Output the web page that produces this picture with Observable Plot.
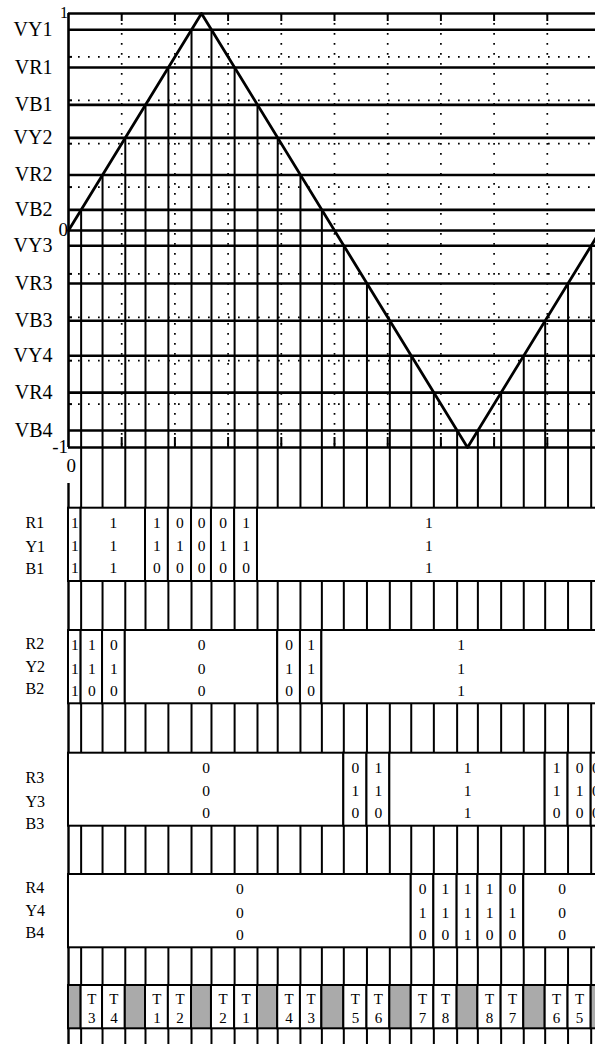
<!DOCTYPE html>
<html>
<head>
<meta charset="utf-8">
<script src="https://cdn.jsdelivr.net/npm/d3@7"></script>
<script src="https://cdn.jsdelivr.net/npm/@observablehq/plot@0.6"></script>
<style>
  html, body { margin: 0; padding: 0; background: #fff; overflow: hidden; }
  #chart svg { display: block; }
</style>
</head>
<body>
<div id="chart"></div>
<script>
// Modulating triangle wave over one period (x in grid units, y in p.u.)
const waveX = [0, 2.5, 7.5, 10];
const waveY = [0, 1, -1, 0];

// Carrier comparison levels, top to bottom
const levelNames  = ["VY1", "VR1", "VB1", "VY2", "VR2", "VB2", "VY3", "VR3", "VB3", "VY4", "VR4", "VB4"];
const levelValues = [0.925, 0.751, 0.579, 0.427, 0.256, 0.095, -0.07, -0.244, -0.416, -0.577, -0.747, -0.922];

// Dotted grid
const gridY = [-0.8, -0.6, -0.4, -0.2, 0.2, 0.4, 0.6, 0.8];
const gridX = [1, 2, 3, 4, 5, 6, 7, 8, 9];
const yTickValues = [1, 0, -1];
const yTickTexts  = ["1", "0", "-1"];

// Switching states per cell. A cell starts at the given interval index
// (intervals lie between successive crossings) and runs to the next cell.
const rowLabels = [["R1", "Y1", "B1"], ["R2", "Y2", "B2"], ["R3", "Y3", "B3"], ["R4", "Y4", "B4"]];
const row1Start = [0, 1, 4, 5, 6, 7, 8, 9];
const row1Bits  = ["111", "111", "110", "010", "000", "010", "110", "111"];
const row2Start = [0, 1, 2, 3, 10, 11, 12];
const row2Bits  = ["111", "110", "010", "000", "010", "110", "111"];
const row3Start = [0, 13, 14, 15, 22, 23, 24];
const row3Bits  = ["000", "010", "110", "111", "110", "010", "000"];
const row4Start = [0, 16, 17, 18, 19, 20, 21];
const row4Bits  = ["000", "010", "110", "111", "110", "010", "000"];

// Switch-combination labels per interval ("" = shaded interval)
const tLabels = ["", "3", "4", "", "1", "2", "", "2", "1", "", "4", "3", "",
                 "5", "6", "", "7", "8", "", "8", "7", "", "6", "5", ""];

// ---------------------------------------------------------------------------
const W = 595;
const xRange = [68, 600];
const font = "'Liberation Serif', 'Times New Roman', serif";

// Points where the triangle wave crosses each carrier level
function crossingsOf(level) {
  const out = [];
  for (let i = 0; i < waveX.length - 1; i++) {
    const a = waveY[i], b = waveY[i + 1];
    if ((level - a) * (level - b) < 0) {
      out.push(waveX[i] + (level - a) / (b - a) * (waveX[i + 1] - waveX[i]));
    }
  }
  return out;
}
const crossings = levelValues.flatMap(v => crossingsOf(v).map(x => ({x, y: v})));
const edges = [waveX[0], ...crossings.map(d => d.x).sort((a, b) => a - b), waveX[waveX.length - 1]];
const yBottom = d3.min(waveY);

const wave = waveX.map((x, i) => ({x, y: waveY[i]}));

// ---------------- Upper panel: wave and carrier levels ----------------
const H1 = 447, mTop = 13;
const frameH = H1 - mTop;

const upper = Plot.plot({
  width: W, height: H1,
  marginTop: mTop, marginBottom: 0, marginLeft: xRange[0], marginRight: 0,
  x: {domain: [0, 10], range: xRange, axis: null},
  y: {domain: [-1, 1], axis: null},
  style: `overflow: visible; font-family: ${font}; color: #000;`,
  marks: [
    Plot.ruleY(gridY, {stroke: "#000", strokeWidth: 1.7, strokeDasharray: "1.7,8.3"}),
    Plot.ruleX(gridX, {stroke: "#000", strokeWidth: 1.7, strokeDasharray: "1.7,8.3"}),
    // inward ticks on the frame
    Plot.ruleX(gridX, {stroke: "#000", strokeWidth: 2, insetBottom: frameH - 8}),
    Plot.ruleX(gridX, {stroke: "#000", strokeWidth: 2, insetTop: frameH - 10}),
    Plot.ruleY(gridY, {stroke: "#000", strokeWidth: 2, insetRight: W - xRange[0] - 4}),
    // zero axis and carrier levels
    Plot.ruleY([0], {stroke: "#000", strokeWidth: 2.4}),
    Plot.ruleY(levelValues, {stroke: "#000", strokeWidth: 2.6}),
    // drop lines from each crossing down to the bottom of the panel
    Plot.ruleX(crossings, {x: "x", y1: "y", y2: () => yBottom, stroke: "#000", strokeWidth: 2}),
    // frame: top, bottom, left
    Plot.ruleY([1, -1], {stroke: "#000", strokeWidth: 2.6}),
    Plot.ruleX([0], {stroke: "#000", strokeWidth: 2.6}),
    // modulating wave
    Plot.line(wave, {x: "x", y: "y", stroke: "#000", strokeWidth: 2.8}),
    // level names
    Plot.text(levelNames, {y: levelValues, text: d => d, frameAnchor: "left", dx: -16,
      textAnchor: "end", fontSize: 20, fill: "#000"}),
    // value labels of the vertical axis
    Plot.text(yTickTexts, {y: yTickValues, text: d => d, frameAnchor: "left",
      dx: [-4, -2, -6], dy: [0, 0, 3], textAnchor: "end", fontSize: [16, 19, 19], fill: "#000"}),
    // origin of the horizontal axis
    Plot.text(["0"], {x: [0], y: [-1], text: d => d, dx: -2, dy: 18, textAnchor: "start",
      fontSize: 19, fill: "#000"})
  ]
});

// ---------------- Lower panel: switching state tables ----------------
const H2 = 1044 - H1;
const rowTop    = [60.7, 183, 305.7, 427];
const rowBottom = [134, 256.3, 378.7, 500.3];
const valueOffset = [15, 38.3, 60.3];
const labelShift  = [0, -1.5, 10, -1.5];
const tTop = 538, tBottom = 581.3;
const leftBorderStart = 36;

const rowStarts = [row1Start, row2Start, row3Start, row4Start];
const rowBits   = [row1Bits, row2Bits, row3Bits, row4Bits];

const cells = rowStarts.flatMap((starts, r) => starts.map((s, k) => ({
  row: r,
  x1: edges[s],
  x2: edges[k + 1 < starts.length ? starts[k + 1] : edges.length - 1],
  bits: rowBits[r][k]
})));
const cellTexts = cells.flatMap(c => [0, 1, 2].map(j => ({
  x: (c.x1 + c.x2) / 2,
  y: rowTop[c.row] + valueOffset[j],
  text: c.bits[j]
})));
const labelTexts = rowLabels.flatMap((names, r) => names.map((n, j) => ({
  y: rowTop[r] + valueOffset[j] + labelShift[r],
  text: n
})));
const tCells = tLabels.map((t, i) => ({x1: edges[i], x2: edges[i + 1], text: t ? `T\n${t}` : ""}));

const lower = Plot.plot({
  width: W, height: H2,
  marginTop: 0, marginBottom: 0, marginLeft: 0, marginRight: 0,
  x: {domain: [0, 10], range: xRange, axis: null},
  y: {domain: [0, H2], range: [0, H2], axis: null},
  style: `font-family: ${font}; color: #000;`,
  marks: [
    Plot.ruleX(crossings, {x: "x", y1: () => 0, y2: () => H2, stroke: "#000", strokeWidth: 2}),
    Plot.ruleX([0], {y1: leftBorderStart, y2: H2, stroke: "#000", strokeWidth: 2.4}),
    Plot.rect(cells, {x1: "x1", x2: "x2", y1: c => rowTop[c.row], y2: c => rowBottom[c.row],
      fill: "#fff", stroke: "#000", strokeWidth: 2}),
    Plot.text(cellTexts, {x: "x", y: "y", text: "text", fontSize: 15.5, fill: "#000"}),
    Plot.text(labelTexts, {y: "y", text: "text", frameAnchor: "left", dx: 25,
      textAnchor: "start", fontSize: 16, fill: "#000"}),
    Plot.rect(tCells, {x1: "x1", x2: "x2", y1: () => tTop, y2: () => tBottom,
      fill: d => d.text ? "#fff" : "#aaaaaa", stroke: "#000", strokeWidth: 2}),
    Plot.text(tCells, {x: d => (d.x1 + d.x2) / 2, y: () => (tTop + tBottom) / 2, text: "text",
      fontSize: 15, lineHeight: 1.3, fill: "#000"})
  ]
});

const host = document.getElementById("chart");
host.appendChild(upper);
host.appendChild(lower);
</script>
</body>
</html>
